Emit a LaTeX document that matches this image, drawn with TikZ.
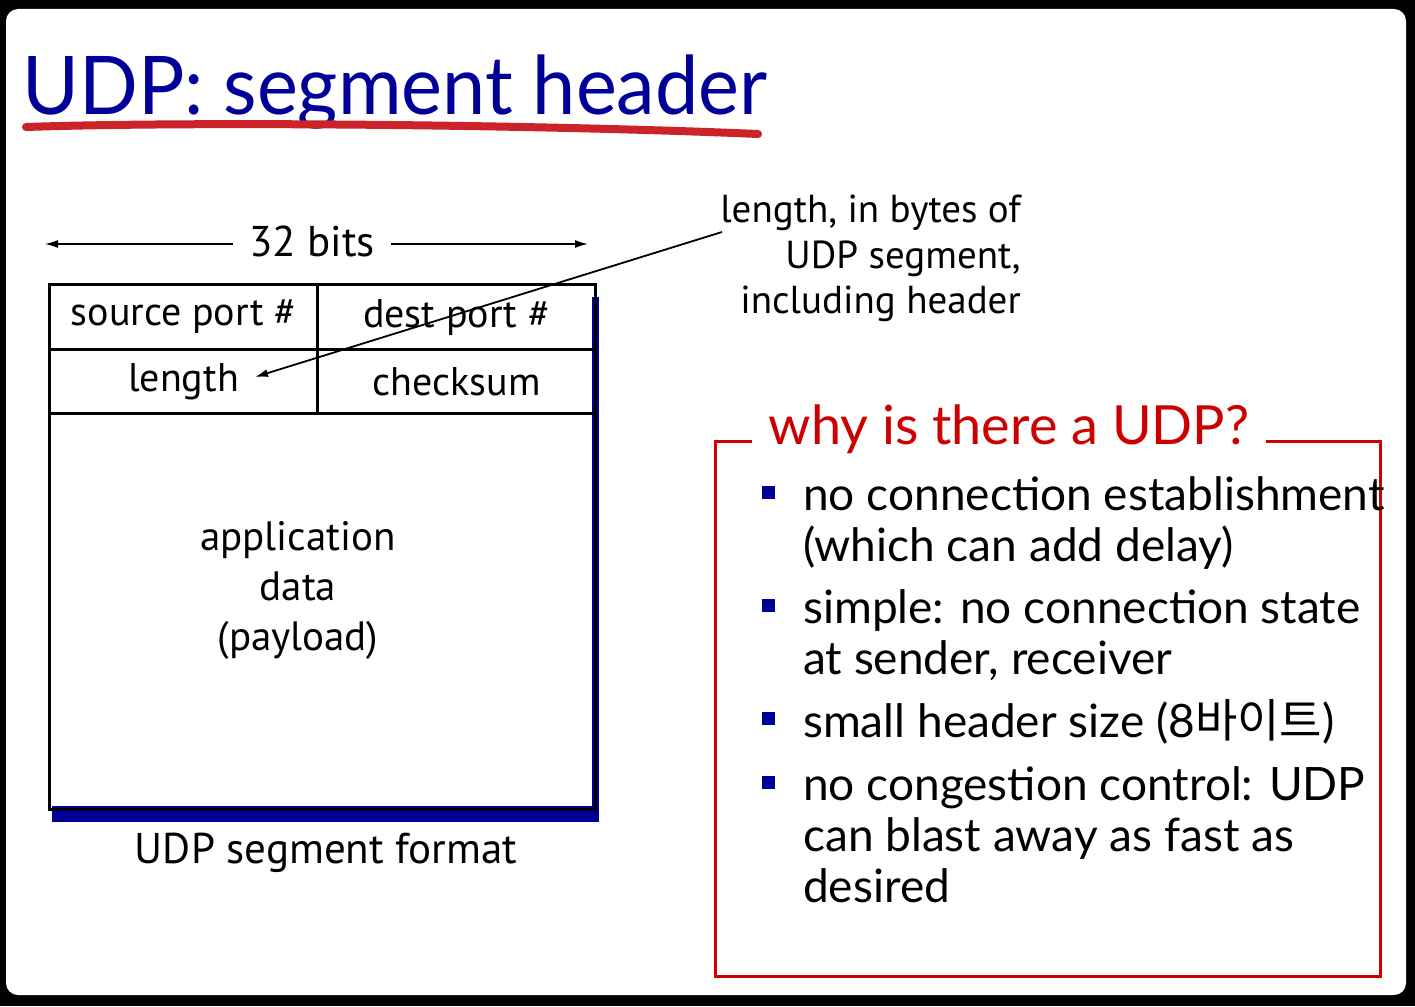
\documentclass[tikz,border=0pt]{standalone}
\usepackage{fontspec}
\setmainfont{Lato}
\newfontfamily\gill{Lato}
\newfontfamily\tah{PT Sans}
\newfontfamily\kr{Noto Sans CJK KR}
\usetikzlibrary{arrows.meta}
\definecolor{udpblue}{RGB}{0,0,153}
\definecolor{udpred}{RGB}{204,0,0}
\definecolor{penred}{RGB}{204,34,41}
\tikzset{
  cell/.style={draw, line width=3pt, inner sep=0pt, anchor=north west, font=\tah\fontsize{40}{46}\selectfont},
  tlabel/.style={inner sep=0pt, font=\tah\fontsize{43}{50}\selectfont},
  ptr/.style={-{Latex[length=13pt,width=8pt]}, line width=1.5pt},
  bul/.style={fill=udpblue, minimum size=13pt, inner sep=0pt},
  btxt/.style={anchor=base west, inner sep=0pt, align=left, font=\gill\fontsize{46}{51}\selectfont},
}
\begin{document}
\begin{tikzpicture}[x=1pt,y=-1pt]
\fill[black] (0,0) rectangle (1415,1006);
\fill[white, rounded corners=12pt] (6,9) rectangle (1406,995);
\useasboundingbox (0,0) rectangle (1415,1006);

% title
\node[anchor=base west, inner sep=0pt, text=udpblue, font=\gill\fontsize{81}{90}\selectfont] (title) at (22,115) {\scalebox{0.955}[1]{UDP: segment header}};
\draw[penred, line width=8pt, line cap=round] (26,127) .. controls (200,121) and (550,125) .. (758,134);

% 32 bits
\node[tlabel] (bits) at (312,241) {32 bits};
\coordinate (bl) at (45,244);
\coordinate (br) at (588,244);
\draw[ptr] (bits.west) ++(-16,3) coordinate (bw) (bw) -- (bl);
\draw[ptr] (bits.east) ++(16,3) coordinate (be) (be) -- (br);

% shadow
\fill[udpblue] (52,806) rectangle (599,822);
\fill[udpblue] (592,297) rectangle (599,822);

% table
\node[cell, minimum width=268pt, minimum height=65pt] (sp) at (48,283) {source port \#};
\node[cell, minimum width=278pt, minimum height=65pt] (dp) at (316,283) {dest port \#};
\node[cell, minimum width=268pt, minimum height=64pt] (len) at (48,348) {length};
\node[cell, minimum width=278pt, minimum height=64pt] (cs) at (316,348) {checksum};
\node[cell, minimum width=546pt, minimum height=396pt] (data) at (48,412) {};
\node[inner sep=0pt, align=center, font=\tah\fontsize{41}{50}\selectfont] (datatxt) at (298,590) {application\\data\\(payload)};
\node[tlabel] (fmt) at (326,853) {UDP segment format};

% annotation
\node[inner sep=0pt, anchor=north east, align=right, font=\tah\fontsize{39}{45.5}\selectfont] (note) at (1021,195) {length, in bytes of\\UDP segment,\\including header};
\coordinate (a1) at (722,232);
\coordinate (lenpt) at (255,377);
\draw[ptr, line width=1.8pt] (a1) -- (lenpt);

% why box
\node[inner sep=0pt, text=udpred, font=\gill\fontsize{54}{60}\selectfont] (why) at (1009,429) {why is there a UDP?};
\draw[udpred, line width=3pt] (752,441) -- (715,441) -- (715,976) -- (1380,976) -- (1380,441) -- (1266,441);

\node[bul] (b1) at (768,492) {};
\node[bul] (b2) at (768,605) {};
\node[bul] (b3) at (768,718) {};
\node[bul] (b4) at (768,782) {};
\node[btxt] (t1) at (803,561) {no connection establishment\\(which can add delay)};
\node[btxt] (t2) at (803,674) {simple: no connection state\\at sender, receiver};
\node[btxt] (t3) at (803,737) {small header size (8{\kr 바이트})};
\node[btxt] (t4) at (803,902) {no congestion control: UDP\\can blast away as fast as\\desired};
\end{tikzpicture}
\end{document}
